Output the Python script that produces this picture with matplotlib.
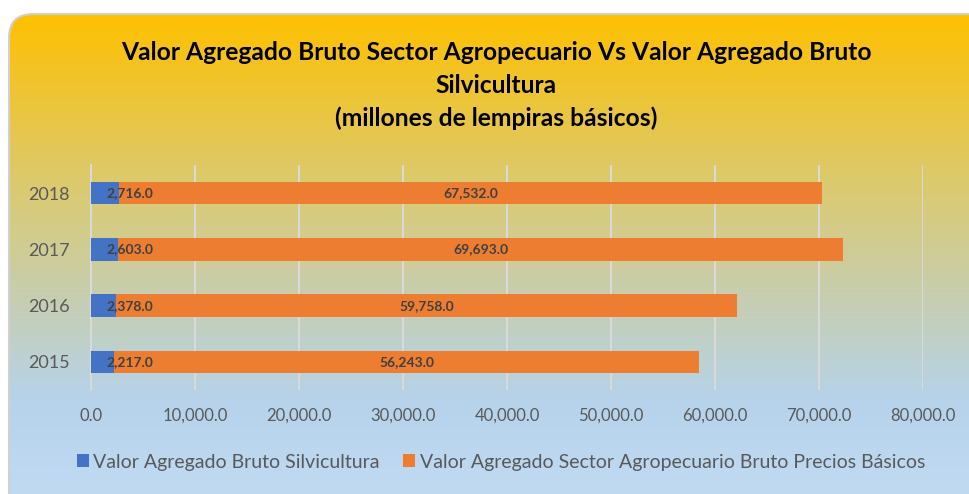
import matplotlib
matplotlib.use("Agg")
import matplotlib.pyplot as plt
import numpy as np
from matplotlib.patches import FancyBboxPatch

years = ["2015", "2016", "2017", "2018"]
silvicultura = [2217.0, 2378.0, 2603.0, 2716.0]
agropecuario = [56243.0, 59758.0, 69693.0, 67532.0]
xticks = [0, 10000, 20000, 30000, 40000, 50000, 60000, 70000, 80000]
title = ("Valor Agregado Bruto Sector Agropecuario Vs Valor Agregado Bruto\n"
         "Silvicultura\n(millones de lempiras básicos)")
legend_labels = ["Valor Agregado Bruto Silvicultura",
                 "Valor Agregado Sector Agropecuario Bruto Precios Básicos"]

FONT = "Lato"
W, H = 969, 494
fig = plt.figure(figsize=(W / 100, H / 100), dpi=100)
fig.patch.set_facecolor("white")

# background with gradient clipped to rounded box
bg = fig.add_axes([0, 0, 1, 1])
bg.set_xlim(0, W)
bg.set_ylim(H, 0)
bg.axis("off")
stops_y = [14, 170, 300, 400, 494]
stops_c = np.array([[255, 192, 0], [222, 201, 102], [198, 206, 178],
                    [182, 211, 235], [192, 218, 242]]) / 255.0
ys = np.arange(H)
grad = np.stack([np.interp(ys, stops_y, stops_c[:, k]) for k in range(3)], axis=1)
img = np.repeat(grad[:, None, :], 2, axis=1)
im = bg.imshow(img, extent=[0, W, H, 0], aspect="auto", zorder=0)
box = FancyBboxPatch((9, 14), 1100, 600, boxstyle="round,pad=0,rounding_size=24",
                     facecolor="none", edgecolor="#D0D0D0", linewidth=1.5, zorder=1)
bg.add_patch(box)
im.set_clip_path(box)

fig.text(496 / W, 1 - 85.5 / H, title, ha="center", va="center", fontsize=17.7,
         fontweight="bold", family=FONT, color="black", linespacing=1.48)

ax = fig.add_axes([91 / W, (H - 390) / H, (923 - 91) / W, 225 / H])
ax.set_facecolor("none")
y = np.arange(len(years))
b1 = ax.barh(y, silvicultura, height=0.4, color="#4472C4", zorder=3,
             label=legend_labels[0])
b2 = ax.barh(y, agropecuario, left=silvicultura, height=0.4, color="#ED7D31",
             zorder=3, label=legend_labels[1])
ax.set_xlim(0, 80000)
ax.set_ylim(-0.5, len(years) - 0.5)
ax.set_xticks(xticks)
ax.set_xticklabels([f"{v:,.1f}" for v in xticks], family=FONT, fontsize=12,
                   color="#595959")
ax.set_yticks(y)
ax.set_yticklabels(years, family=FONT, fontsize=13, color="#595959")
ax.tick_params(axis="both", length=0)
ax.tick_params(axis="x", pad=13)
ax.tick_params(axis="y", pad=15.5)
ax.grid(axis="x", color="#D9D9D9", linewidth=1.5, zorder=0)
for s in ["top", "right", "bottom"]:
    ax.spines[s].set_visible(False)
ax.spines["left"].set_color("#D9D9D9")
ax.spines["left"].set_linewidth(1.5)

for i in range(len(years)):
    ax.annotate(f"{silvicultura[i]:,.1f}", xy=(0, y[i]), xytext=(11, 0),
                textcoords="offset points", ha="left", va="center",
                fontsize=10, fontweight="bold", family=FONT, color="#404040",
                zorder=5)
    ax.text(silvicultura[i] + agropecuario[i] / 2, y[i], f"{agropecuario[i]:,.1f}",
            ha="center", va="center", fontsize=10, fontweight="bold",
            family=FONT, color="#404040", zorder=5)

leg = fig.legend(handles=[b1, b2], labels=legend_labels, loc="center",
                 bbox_to_anchor=(501 / W, 1 - 462 / H), ncol=2, frameon=False,
                 prop={"family": FONT, "size": 14}, handlelength=0.6,
                 handleheight=0.6, handletextpad=0.25, columnspacing=1.2)
for t in leg.get_texts():
    t.set_color("#595959")

fig.savefig("out.png", dpi=100)
